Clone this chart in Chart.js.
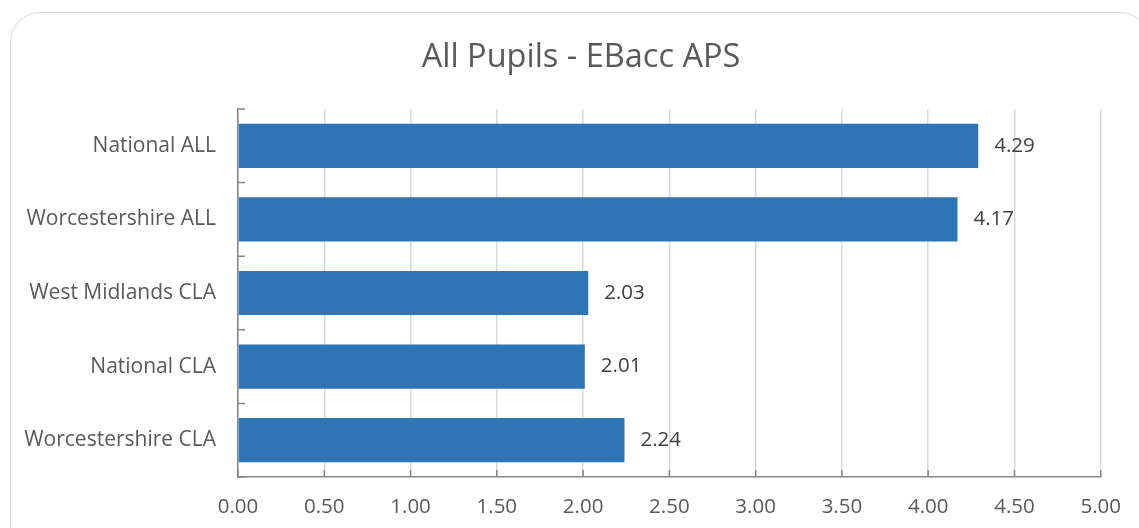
<!DOCTYPE html>
<html lang="en">
  <head>
    <title>All Pupils - EBacc APS</title>
    <script src="https://cdn.jsdelivr.net/npm/chart.js@4.4.1/dist/chart.umd.min.js"></script>
    <style>
      body { margin: 0; background: #fff; }
      .frame {
        position: absolute; left: 10px; top: 12px; width: 1140px; height: 560px;
        border: 1.5px solid #d9d9d9; border-radius: 30px; box-sizing: border-box;
      }
      .wrap { position: absolute; left: 0; top: 0; width: 1139px; height: 528px; }
    </style>
  </head>
  <body>
    <div class="frame"></div>
    <div class="wrap">
      <canvas id="apsChart" width="1139" height="528"></canvas>
    </div>
    <script>
      const chartTitle = "All Pupils - EBacc APS";
      const groups = ["National ALL", "Worcestershire ALL", "West Midlands CLA", "National CLA", "Worcestershire CLA"];
      const apsScores = [4.29, 4.17, 2.03, 2.01, 2.24];

      const axisGrey = "#868686";
      const textGrey = "#595959";

      // title centred over the whole frame rather than the plot area
      const frameTitle = {
        id: "frameTitle",
        afterDraw(chart) {
          const ctx = chart.ctx;
          ctx.save();
          ctx.fillStyle = textGrey;
          ctx.font = "32.5px 'Open Sans'";
          ctx.textAlign = "center";
          ctx.textBaseline = "middle";
          ctx.fillText(chartTitle, 581, 58);
          ctx.restore();
        }
      };

      // small inward tick marks on both axes, plus the value next to each bar
      const tickMarks = {
        id: "tickMarks",
        afterDatasetsDraw(chart) {
          const ctx = chart.ctx;
          const x = chart.scales.x;
          const area = chart.chartArea;
          ctx.save();
          ctx.strokeStyle = axisGrey;
          ctx.lineWidth = 1.5;
          ctx.beginPath();
          x.ticks.forEach(t => {
            const px = x.getPixelForValue(t.value);
            ctx.moveTo(px, area.bottom);
            ctx.lineTo(px, area.bottom - 7);
          });
          const step = (area.bottom - area.top) / groups.length;
          for (let i = 0; i <= groups.length; i++) {
            const py = area.top + i * step;
            ctx.moveTo(area.left, py);
            ctx.lineTo(area.left + 7, py);
          }
          ctx.stroke();

          ctx.fillStyle = "#404040";
          ctx.font = "20.5px 'Open Sans'";
          ctx.textBaseline = "middle";
          ctx.textAlign = "left";
          chart.getDatasetMeta(0).data.forEach((bar, i) => {
            ctx.fillText(apsScores[i].toFixed(2), bar.x + 16, bar.y);
          });
          ctx.restore();
        }
      };

      const apsCtx = document.getElementById("apsChart").getContext("2d");
      const apsChart = new Chart(apsCtx, {
        type: "bar",
        data: {
          labels: groups,
          datasets: [{
            data: apsScores,
            backgroundColor: "#2E75B6",
            barPercentage: 0.6,
            categoryPercentage: 1.0
          }]
        },
        options: {
          indexAxis: "y",
          responsive: false,
          animation: false,
          layout: { padding: { left: 0, right: 38, top: 109, bottom: 0 } },
          plugins: {
            legend: { display: false },
            tooltip: { enabled: false },
            title: { display: false }
          },
          scales: {
            x: {
              min: 0,
              max: 5,
              ticks: {
                stepSize: 0.5,
                color: textGrey,
                font: { family: "'Open Sans'", size: 20.5 },
                padding: 18,
                callback: v => Number(v).toFixed(2)
              },
              grid: { color: "#d9d9d9", lineWidth: 1.5, drawTicks: false },
              border: { color: axisGrey, width: 1.5 },
              afterFit: scale => { scale.height = 51; }
            },
            y: {
              ticks: {
                color: textGrey,
                font: { family: "'Open Sans'", size: 21 },
                padding: 22
              },
              grid: { display: false, drawTicks: false },
              border: { color: axisGrey, width: 1.5 },
              afterFit: scale => { scale.width = 238; }
            }
          }
        },
        plugins: [tickMarks, frameTitle]
      });
    </script>
  </body>
</html>
